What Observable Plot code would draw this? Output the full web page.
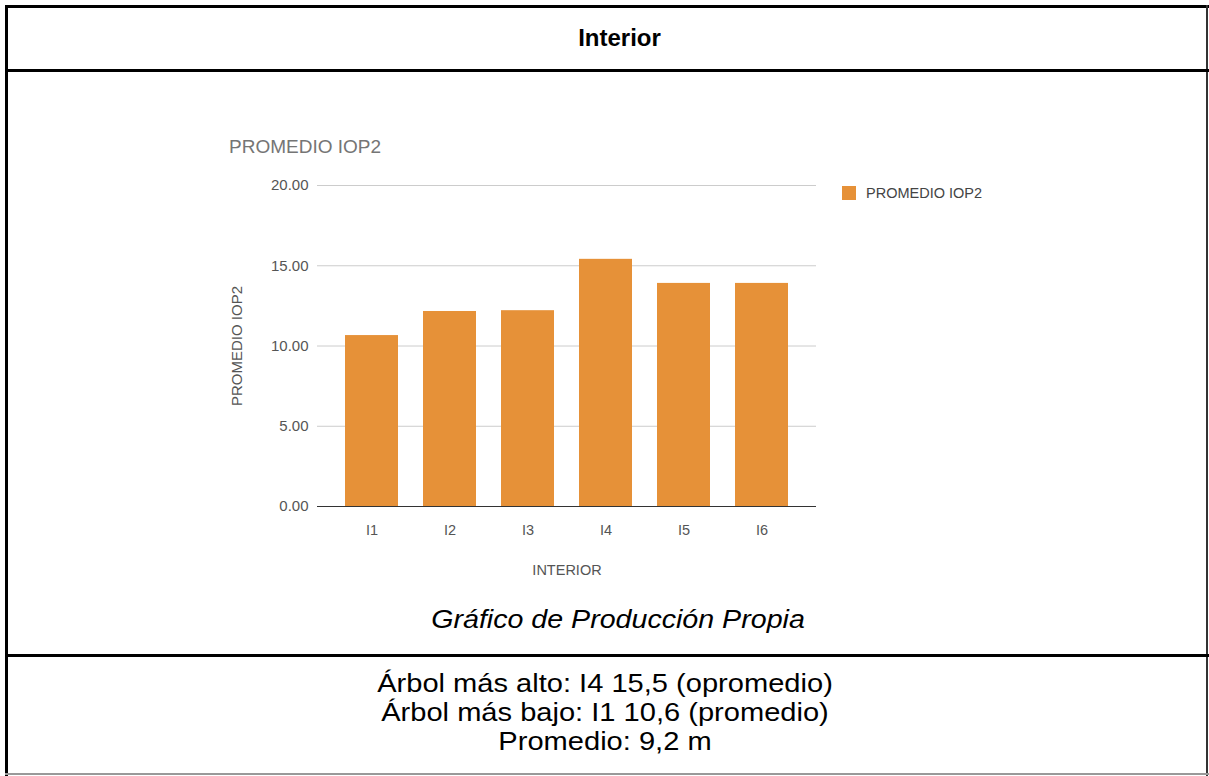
<!DOCTYPE html>
<html>
<head>
<meta charset="utf-8">
<script src="https://cdn.jsdelivr.net/npm/d3@7"></script>
<script src="https://cdn.jsdelivr.net/npm/@observablehq/plot@0.6"></script>
<style>
  html, body { margin: 0; padding: 0; background: #fff; }
  #page { position: relative; width: 1209px; height: 776px; overflow: hidden; font-family: "Liberation Sans", Arial, sans-serif; }
  .ln { position: absolute; background: #000; }
  .txt { position: absolute; white-space: nowrap; color: #000; }
</style>
</head>
<body>
<div id="page">
  <div class="ln" style="left:5px;top:5px;width:1204px;height:3px;"></div>
  <div class="ln" style="left:5px;top:5px;width:3px;height:771px;"></div>
  <div class="ln" style="left:1206px;top:5px;width:2px;height:771px;background:#333;"></div>
  <div class="ln" style="left:5px;top:773px;width:1204px;height:2px;background:#999;"></div>
  <div class="ln" style="left:5px;top:69px;width:1204px;height:3px;"></div>
  <div class="ln" style="left:5px;top:654px;width:1204px;height:3px;"></div>

  <div class="txt" id="hdr" style="left:0;width:1239px;top:24px;text-align:center;font-weight:bold;font-size:24px;line-height:28px;"></div>
  <div class="txt" id="chartTitle" style="left:229px;top:136px;font-size:19px;color:#757575;"></div>
  <div id="plotHolder" style="position:absolute;left:200px;top:160px;"></div>
  <div id="legendHolder" style="position:absolute;left:842px;top:176px;"></div>
  <div class="txt" id="caption" style="left:0;width:1236px;top:604px;text-align:center;font-style:italic;font-size:26px;line-height:30px;transform:scaleX(1.1);transform-origin:618px 0;"></div>
  <div class="txt" id="notes" style="left:0;width:1210px;top:669px;text-align:center;font-size:25.5px;line-height:29px;transform:scaleX(1.14);transform-origin:605px 0;"></div>
</div>
<script>
// ---- data ----
const categories = ["I1", "I2", "I3", "I4", "I5", "I6"];
const values = [10.65, 12.15, 12.2, 15.4, 13.9, 13.9];
const yTicks = [0, 5, 10, 15, 20];
const seriesName = "PROMEDIO IOP2";
const headerText = "Interior";
const xLabel = "INTERIOR";
const yLabel = "PROMEDIO IOP2";
const captionText = "Gráfico de Producción Propia";
const noteLines = [
  "Árbol más alto: I4 15,5 (opromedio)",
  "Árbol más bajo: I1 10,6 (promedio)",
  "Promedio: 9,2 m"
];
const barColor = "#e69138";

const data = categories.map((c, i) => ({cat: c, val: values[i], series: seriesName}));

document.getElementById("hdr").textContent = headerText;
document.getElementById("chartTitle").textContent = seriesName;
document.getElementById("caption").textContent = captionText;
document.getElementById("notes").innerHTML = noteLines.map(s => `<div>${s}</div>`).join("");

const chart = Plot.plot({
  width: 800,
  height: 420,
  marginLeft: 117,
  marginRight: 184,
  marginTop: 25,
  marginBottom: 74,
  style: {fontFamily: "'Liberation Sans', Arial, sans-serif", fontSize: "14.5px", color: "#555", background: "transparent"},
  x: {domain: categories, paddingInner: 0.326, paddingOuter: 0.35},
  y: {domain: [0, 20]},
  color: {domain: [seriesName], range: [barColor]},
  marks: [
    Plot.ruleY(yTicks.filter(d => d > 0), {stroke: "#cccccc", strokeWidth: 1}),
    Plot.barY(data, {x: "cat", y: "val", fill: "series", inset: 0}),
    Plot.ruleY([0], {stroke: "#333", strokeWidth: 1}),
    Plot.axisY({ticks: yTicks, tickFormat: d3.format(".2f"), tickSize: 0, tickPadding: 9,
      label: yLabel, labelAnchor: "center", labelOffset: 86, labelArrow: "none", fontSize: 15}),
    Plot.axisX({tickSize: 0, tickPadding: 18, label: xLabel, labelAnchor: "center", labelOffset: 68, labelArrow: "none"})
  ]
});
document.getElementById("plotHolder").appendChild(chart);

const legend = Plot.legend({
  color: {domain: [seriesName], range: [barColor]},
  swatchSize: 14,
  style: {fontFamily: "'Liberation Sans', Arial, sans-serif", fontSize: "14.5px", color: "#444", marginLeft: "0"}
});
legend.querySelectorAll("svg").forEach(s => s.style.marginRight = "10px");
document.getElementById("legendHolder").appendChild(legend);
</script>
</body>
</html>
